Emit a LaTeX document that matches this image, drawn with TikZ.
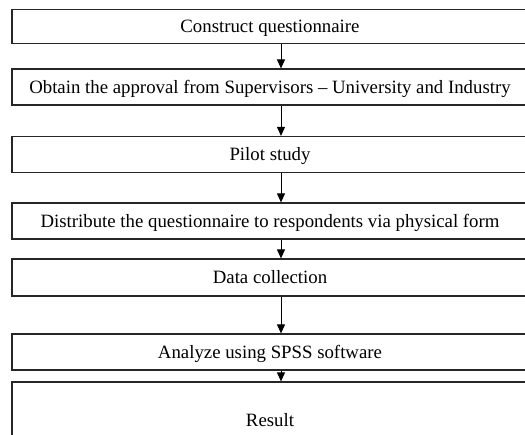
\documentclass[tikz,border=0pt]{standalone}
\usepackage{fontspec}
\setmainfont{Liberation Serif}
\usetikzlibrary{arrows.meta}
\begin{document}
\begin{tikzpicture}[x=1pt,y=-1pt,
  box/.style={draw=black!85, line width=1.2pt, minimum width=516pt, inner sep=0pt, text height=12.6pt, text depth=0pt, font=\fontsize{18.8}{20}\selectfont},
  arr/.style={line width=1pt, -{Triangle[length=9pt,width=8pt]}}]
\useasboundingbox (0,0) rectangle (525,434);
\clip (0,0) rectangle (525,434);
\node[box, minimum height=34pt] (n1) at (270,26.5) {Construct questionnaire};
\node[box, minimum height=36pt] (n2) at (270,87) {Obtain the approval from Supervisors -- University and Industry};
\node[box, minimum height=36pt] (n3) at (270,154.5) {Pilot study};
\node[box, minimum height=36pt] (n4) at (270,221) {Distribute the questionnaire to respondents via physical form};
\node[box, minimum height=37pt] (n5) at (270,277.5) {Data collection};
\node[box, minimum height=36pt] (n6) at (270,352) {Analyze using SPSS software};
\node[box, minimum height=76pt] (n7) at (270,420) {Result};
\foreach \a/\b in {n1/n2,n2/n3,n3/n4,n4/n5,n5/n6,n6/n7}{
  \draw[arr] ([xshift=11pt]\a.south) -- ([xshift=11pt]\b.north);
}
\end{tikzpicture}
\end{document}
